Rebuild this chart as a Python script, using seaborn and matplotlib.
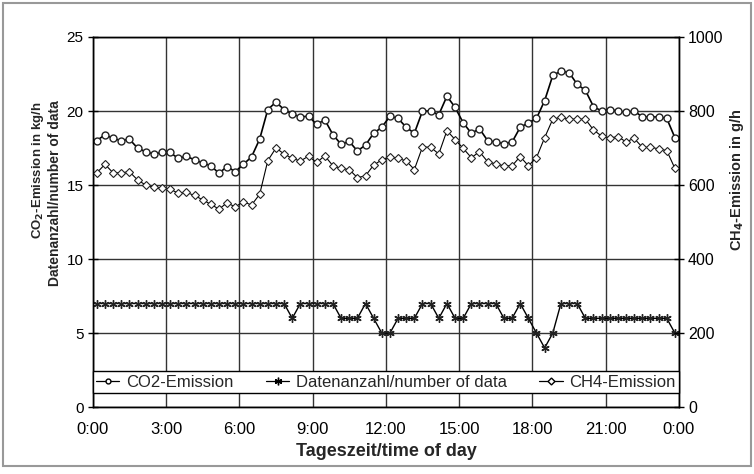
import numpy as np
import pandas as pd
import seaborn as sns
import matplotlib.pyplot as plt
from matplotlib.lines import Line2D
from matplotlib.patches import Rectangle

# measurement times: middle of each 20-minute interval, in hours
minutes = np.arange(10, 1440, 20)
hours = minutes / 60

co2 = [18.0, 18.4, 18.15, 18.0, 18.1, 17.5, 17.25, 17.1, 17.2, 17.2, 16.8, 16.95,
       16.7, 16.5, 16.3, 15.8, 16.25, 15.9, 16.4, 16.9, 18.1, 20.1,
       20.6, 20.1, 19.8, 19.6, 19.65, 19.1, 19.4, 18.4, 17.75, 17.95, 17.3,
       17.7, 18.5, 18.9, 19.65, 19.5, 18.9, 18.5, 20.0, 20.0, 19.75,
       21.0, 20.25, 19.2, 18.5, 18.8, 18.0, 17.9, 17.8, 17.9, 18.9, 19.2,
       19.5, 20.7, 22.4, 22.7, 22.6, 21.8, 21.4, 20.3, 20.0, 20.1,
       20.0, 19.9, 20.0, 19.6, 19.6, 19.6, 19.5, 18.2]

ch4 = [633, 656, 633, 633, 636, 614, 600, 594, 591, 589, 578, 580,
       572, 560, 548, 535, 552, 541, 555, 546, 575, 666,
       700, 684, 672, 665, 678, 661, 679, 652, 645, 642, 620,
       625, 654, 668, 677, 672, 665, 642, 703, 702, 684,
       747, 723, 699, 674, 690, 663, 657, 652, 652, 677, 652,
       674, 728, 778, 783, 778, 778, 778, 749, 732, 728,
       730, 717, 726, 702, 702, 698, 693, 645]

n_data = [7, 7, 7, 7, 7, 7, 7, 7, 7, 7, 7, 7, 7, 7, 7, 7, 7, 7, 7, 7, 7, 7, 7, 7,
          6, 7, 7, 7, 7, 7, 6, 6, 6, 7, 6, 5, 5, 6, 6, 6, 7, 7, 6, 7, 6, 6,
          7, 7, 7, 7, 6, 6, 7, 6, 5, 4, 5, 7, 7, 7,
          6, 6, 6, 6, 6, 6, 6, 6, 6, 6, 6, 5]

tick_hours = [0, 3, 6, 9, 12, 15, 18, 21, 24]
tick_labels = ['0:00', '3:00', '6:00', '9:00', '12:00', '15:00', '18:00', '21:00', '0:00']

df = pd.DataFrame({'hour': hours, 'co2': co2, 'ch4': ch4, 'n': n_data})

sns.set_style('white')
plt.rcParams['font.family'] = ['Liberation Sans', 'DejaVu Sans']
plt.rcParams['font.size'] = 11

fig = plt.figure(figsize=(7.54, 4.74), dpi=100)
ax = fig.add_axes([0.123, 0.141, 0.7775, 0.781])
ax2 = ax.twinx()

sns.lineplot(data=df, x='hour', y='co2', ax=ax, color='black', lw=1.2,
             marker='o', markersize=5, mfc='white', mec='#222222', mew=1.0)
sns.lineplot(data=df, x='hour', y='n', ax=ax, color='black', lw=1.0,
             marker=(6, 2, 0), markersize=6, mec='#222222', mew=1.0)
sns.lineplot(data=df, x='hour', y='ch4', ax=ax2, color='black', lw=0.8,
             marker='D', markersize=3.8, mfc='white', mec='#222222', mew=0.8)

ax.set_xlim(0, 24)
ax.set_ylim(0, 25)
ax2.set_ylim(0, 1000)
ax.set_xticks(tick_hours)
ax.set_xticklabels(tick_labels)
ax.set_yticks([0, 5, 10, 15, 20, 25])
ax2.set_yticks([0, 200, 400, 600, 800, 1000])

ax.grid(True, color='#333333', lw=1.0)
ax.set_axisbelow(True)
for a in (ax, ax2):
    for s in a.spines.values():
        s.set_color('black')
        s.set_linewidth(1.0)
    a.tick_params(direction='inout', length=7, width=1, colors='black', labelsize=11, pad=3)
ax2.tick_params(axis='y', labelsize=11.5)
ax.tick_params(axis='x', pad=7, labelsize=12)

ax.set_xlabel('')
ax.set_ylabel('')
ax2.set_ylabel('')

fig.text(0.512, 0.048, 'Tageszeit/time of day', ha='center', va='center',
         fontsize=13, fontweight='bold')
fig.text(0.051, 0.642, r'CO$_\mathbf{2}$-Emission in kg/h', rotation=90,
         ha='center', va='center', fontsize=9.5, fontweight='bold')
fig.text(0.073, 0.592, 'Datenanzahl/number of data', rotation=90,
         ha='center', va='center', fontsize=10, fontweight='bold')
fig.text(0.977, 0.622, r'CH$_\mathbf{4}$-Emission in g/h', rotation=90,
         ha='center', va='center', fontsize=10.5, fontweight='bold')

handles = [
    Line2D([], [], color='black', lw=0.9, marker='o', markersize=3.5, mfc='white', mec='black'),
    Line2D([], [], color='black', lw=0.9, marker=(6, 2, 0), markersize=5.5, mec='black'),
    Line2D([], [], color='black', lw=0.9, marker='D', markersize=3.5, mfc='white', mec='black'),
]
labels = ['CO2-Emission', 'Datenanzahl/number of data', 'CH4-Emission']
leg = ax2.legend(handles, labels, loc='lower left', bbox_to_anchor=(0, 0.038, 1, 0.07),
                 mode='expand', ncol=3, frameon=True, fancybox=False, framealpha=1,
                 edgecolor='black', borderaxespad=0, handlelength=1.4, handletextpad=0.4,
                 fontsize=12, borderpad=0.2)
leg.get_frame().set_linewidth(1.0)

fig.patches.append(Rectangle((0.004, 0.017), 0.992, 0.977, transform=fig.transFigure,
                             fill=False, edgecolor='#999999', lw=1.5))

fig.savefig('out.png', dpi=100)
